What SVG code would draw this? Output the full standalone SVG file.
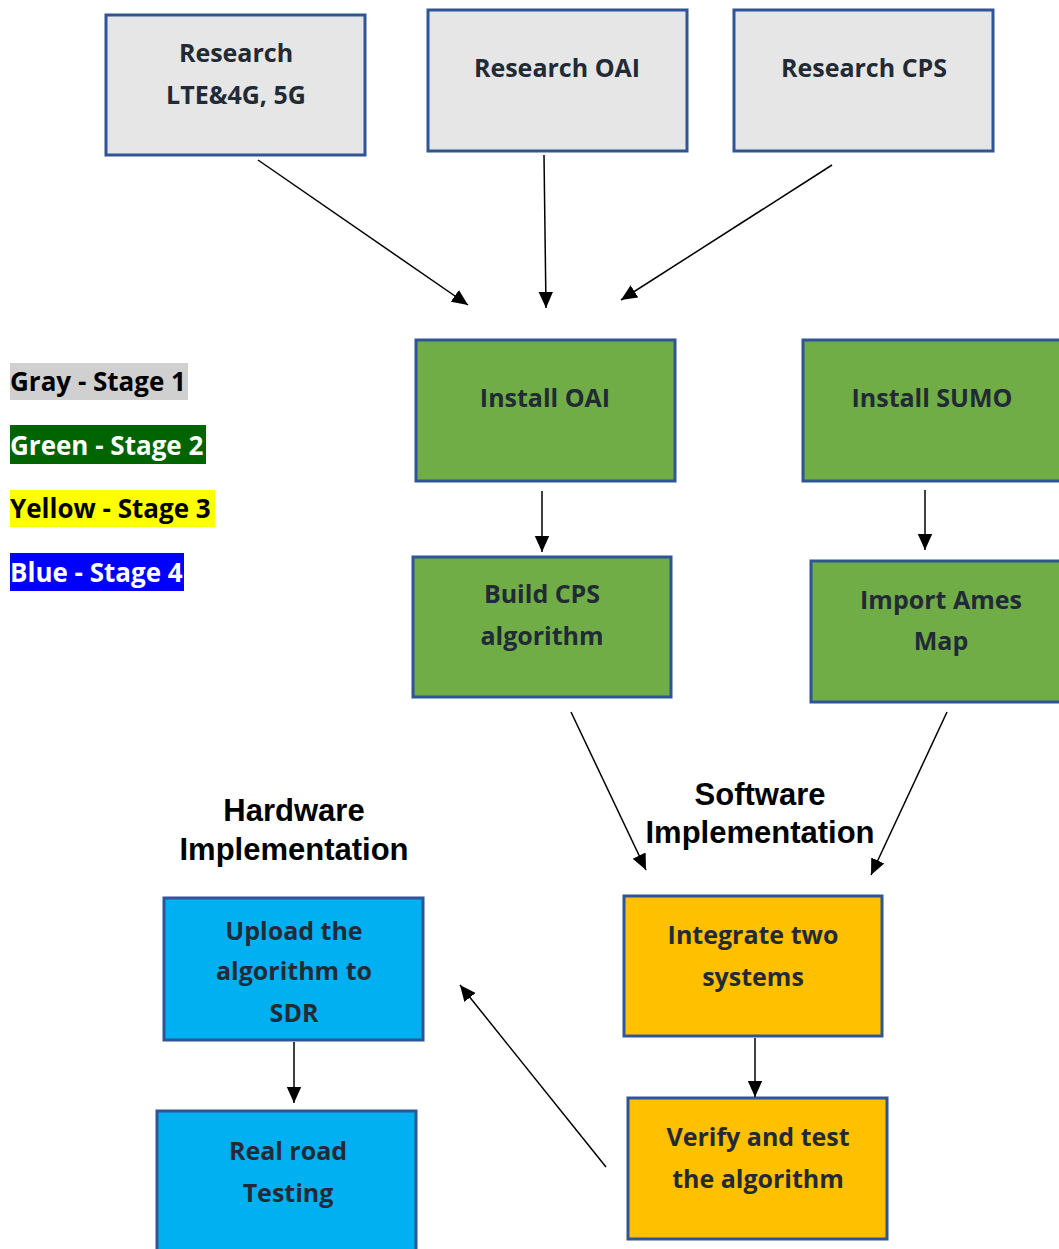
<svg xmlns="http://www.w3.org/2000/svg" width="1059" height="1249" viewBox="0 0 1059 1249">
<defs>
<style>
.box{stroke:#2f5597;stroke-width:3}
.gray{fill:#e6e6e6}
.green{fill:#70ad47}
.yellow{fill:#ffc000}
.blue{fill:#00b0f0}
.t{font-family:"Open Sans","Liberation Sans",sans-serif;font-weight:bold;font-size:25px;fill:#222a35;text-anchor:middle;dominant-baseline:central}
.lg{font-family:"Open Sans","Liberation Sans",sans-serif;font-weight:bold;font-size:26px;dominant-baseline:central}
.h{font-family:"Liberation Sans",Arial,sans-serif;font-size:31px;fill:#000;text-anchor:middle;dominant-baseline:central;font-weight:bold}
.c{stroke:#000;stroke-width:1.5;fill:none;marker-end:url(#ah)}
</style>
<marker id="ah" markerWidth="16" markerHeight="16" refX="10" refY="5" orient="auto" markerUnits="userSpaceOnUse" viewBox="0 0 10 10" preserveAspectRatio="none">
<path d="M0,0.5 L10,5 L0,9.5 z" fill="#000"/>
</marker>
</defs>
<rect width="1059" height="1249" fill="#fff"/>

<g id="legend">
<rect x="10" y="363" width="178" height="37" fill="#d0d0d0"/>
<text class="lg" x="10" y="381" fill="#000">Gray - Stage 1</text>
<rect x="10" y="425" width="196" height="39" fill="#006400"/>
<text class="lg" x="10" y="445" fill="#fff">Green - Stage 2</text>
<rect x="10" y="490" width="205" height="37" fill="#ffff00"/>
<text class="lg" x="10" y="508" fill="#000">Yellow - Stage 3</text>
<rect x="10" y="553" width="174" height="38" fill="#0000ff"/>
<text class="lg" x="10" y="572" fill="#fff">Blue - Stage 4</text>
</g>

<g id="research-lte">
<rect class="box gray" x="106" y="15" width="259" height="140"/>
<text class="t" x="236" y="52">Research</text>
<text class="t" x="236" y="94">LTE&amp;4G, 5G</text>
</g>
<g id="research-oai">
<rect class="box gray" x="428" y="10" width="259" height="141"/>
<text class="t" x="557" y="67">Research OAI</text>
</g>
<g id="research-cps">
<rect class="box gray" x="734" y="10" width="259" height="141"/>
<text class="t" x="864" y="67">Research CPS</text>
</g>
<g id="install-oai">
<rect class="box green" x="416" y="340" width="259" height="141"/>
<text class="t" x="545" y="397">Install OAI</text>
</g>
<g id="install-sumo">
<rect class="box green" x="803" y="340" width="260" height="141"/>
<text class="t" x="932" y="397">Install SUMO</text>
</g>
<g id="build-cps">
<rect class="box green" x="413" y="557" width="258" height="140"/>
<text class="t" x="542" y="593">Build CPS</text>
<text class="t" x="542" y="635">algorithm</text>
</g>
<g id="import-ames">
<rect class="box green" x="811" y="561" width="252" height="141"/>
<text class="t" x="941" y="599">Import Ames</text>
<text class="t" x="941" y="640">Map</text>
</g>
<g id="integrate">
<rect class="box yellow" x="624" y="896" width="258" height="140"/>
<text class="t" x="753" y="934">Integrate two</text>
<text class="t" x="753" y="976">systems</text>
</g>
<g id="verify">
<rect class="box yellow" x="628" y="1098" width="259" height="141"/>
<text class="t" x="758" y="1136">Verify and test</text>
<text class="t" x="758" y="1178">the algorithm</text>
</g>
<g id="upload">
<rect class="box blue" x="164" y="898" width="259" height="142"/>
<text class="t" x="294" y="930">Upload the</text>
<text class="t" x="294" y="970">algorithm to</text>
<text class="t" x="294" y="1012">SDR</text>
</g>
<g id="real-road">
<rect class="box blue" x="157" y="1111" width="259" height="145"/>
<text class="t" x="288" y="1150">Real road</text>
<text class="t" x="288" y="1192">Testing</text>
</g>

<g id="labels">
<text class="h" x="294" y="810">Hardware</text>
<text class="h" x="294" y="849">Implementation</text>
<text class="h" x="760" y="794">Software</text>
<text class="h" x="760" y="832">Implementation</text>
</g>

<g id="connectors">
<line class="c" x1="258" y1="160" x2="468" y2="305"/>
<line class="c" x1="544" y1="155" x2="546" y2="308"/>
<line class="c" x1="832" y1="165" x2="621" y2="300"/>
<line class="c" x1="542" y1="491" x2="542" y2="552"/>
<line class="c" x1="925" y1="490" x2="925" y2="550"/>
<line class="c" x1="571" y1="712" x2="646" y2="870"/>
<line class="c" x1="947" y1="712" x2="871" y2="875"/>
<line class="c" x1="755" y1="1038" x2="755" y2="1097"/>
<line class="c" x1="294" y1="1042" x2="294" y2="1103"/>
<line class="c" x1="606" y1="1167" x2="460" y2="985"/>
</g>
</svg>
